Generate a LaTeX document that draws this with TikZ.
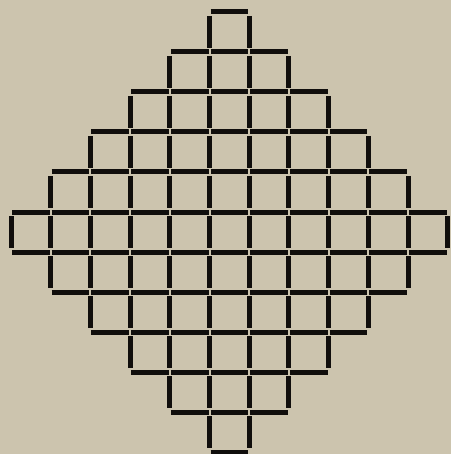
\documentclass[tikz,border=0pt]{standalone}
\definecolor{paper}{RGB}{204,196,174}
\definecolor{ink}{RGB}{16,14,12}
\begin{document}
\begin{tikzpicture}[x=1pt,y=-1pt,
  stick/.style={line width=5pt, draw=ink, line cap=butt}]
\fill[paper] (0,0) rectangle (451,454);
\useasboundingbox (0,0) rectangle (451,454);
% vertical matchsticks
\foreach \j in {0,...,10}{
  \pgfmathtruncatemacro{\d}{abs(\j-5)}
  \pgfmathtruncatemacro{\e}{11-\d}
  \foreach \i in {\d,...,\e}{
    \draw[stick] ({11+39.7*\i},{12+40*\j+4}) -- ({11+39.7*\i},{52+40*\j-4});
  }
}
% horizontal matchsticks
\foreach \k in {0,...,11}{
  \pgfmathtruncatemacro{\a}{\k<=5 ? 5-\k : \k-6}
  \pgfmathtruncatemacro{\b}{10-\a}
  \foreach \i in {\a,...,\b}{
    \draw[stick] ({11+39.7*\i+1},{12+40*\k}) -- ({11+39.7*(\i+1)-1},{12+40*\k});
  }
}
\end{tikzpicture}
\end{document}
